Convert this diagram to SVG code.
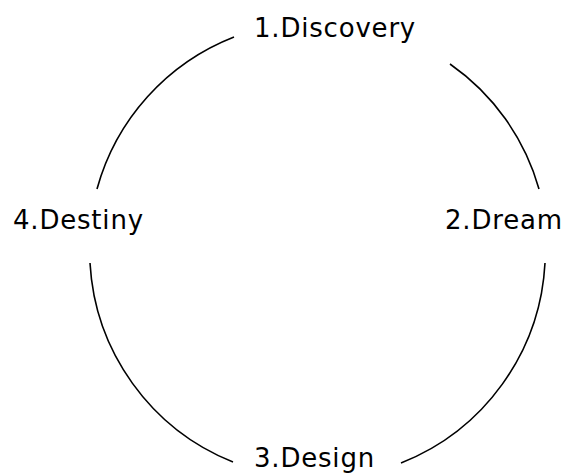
<svg xmlns="http://www.w3.org/2000/svg" width="566" height="476" viewBox="0 0 566 476">
<style>
.lbl{font-family:"DejaVu Sans",sans-serif;font-size:26px;letter-spacing:0.8px;fill:#000}
.arc{fill:none;stroke:#000;stroke-width:1.6}
</style>
<rect width="566" height="476" fill="#fff"/>
<g id="connectors">
<path class="arc" d="M97,189 A228,228 0 0 1 234,37"/>
<path class="arc" d="M450,64 A228,228 0 0 1 539,189"/>
<path class="arc" d="M545,263 A228,228 0 0 1 401,463"/>
<path class="arc" d="M233,462 A228,228 0 0 1 90,263"/>
</g>
<g id="discovery"><text class="lbl" x="254" y="37">1.Discovery</text></g>
<g id="dream"><text class="lbl" x="445" y="229">2.Dream</text></g>
<g id="design"><text class="lbl" x="254" y="467">3.Design</text></g>
<g id="destiny"><text class="lbl" x="13" y="229">4.Destiny</text></g>
</svg>
